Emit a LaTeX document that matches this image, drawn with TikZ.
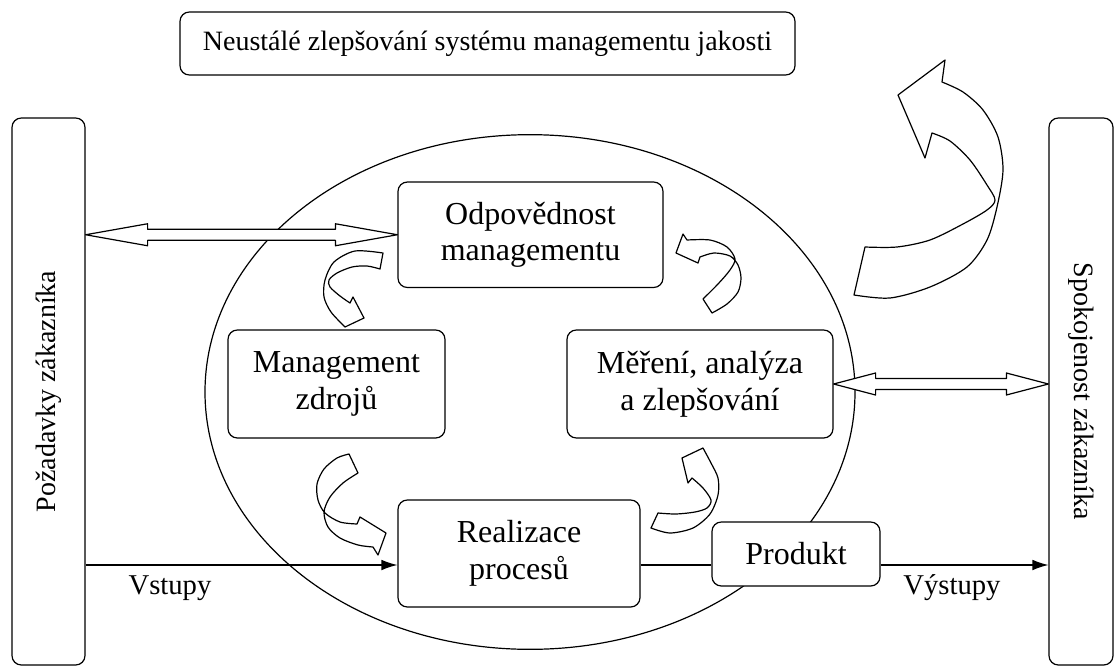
\documentclass[tikz,border=0pt]{standalone}
\usepackage{fontspec}
\setmainfont{Liberation Serif}
\usetikzlibrary{calc,arrows.meta}
\newcommand\blockdbl[3]{%
  \path (#1) coordinate (dA) (#2) coordinate (dB);
  \draw[fill=white] (dA) -- ++(#3,-11) -- ++(0,5.5) -- ($(dB)+(-#3,-5.5)$) -- ++(0,-5.5) -- (dB)
    -- ++(-#3,11) -- ++(0,-5.5) -- ($(dA)+(#3,5.5)$) -- ++(0,5.5) -- cycle;}
\begin{document}
\begin{tikzpicture}[x=0.75pt,y=-0.75pt,line width=0.9pt,line join=round,
  box/.style={draw,rounded corners=7pt,fill=white,align=center,inner sep=0pt,
    font=\fontsize{24}{27.5}\selectfont},
  plainbox/.style={draw,rounded corners=7pt,fill=white,align=center,inner sep=0pt,
    font=\fontsize{21}{24.4}\selectfont},
  lbl/.style={font=\fontsize{21.5}{24.4}\selectfont,inner sep=0pt},
  tipstyle/.style={-{Latex[length=12pt,width=8pt]}}]
\useasboundingbox (0,0) rectangle (1115,668);
% big ellipse
\draw (530,392) ellipse [x radius=243.75pt, y radius=193pt];
% boxes
\node[plainbox,minimum width=461.25pt,minimum height=47.25pt] (top) at (487.5,43.5)
  {Neustálé zlepšování systému managementu jakosti};
\node[plainbox,minimum width=54.75pt,minimum height=410.25pt] (lb) at (48.5,391.5)
  {\rotatebox{90}{Požadavky zákazníka}};
\node[plainbox,minimum width=48pt,minimum height=410.25pt] (rb) at (1081,391.5)
  {\rotatebox{-90}{Spokojenost zákazníka}};
\node[box,minimum width=198.75pt,minimum height=79.1pt] (odp) at (530.5,234.75)
  {Odpovědnost\\managementu};
\node[box,minimum width=162.75pt,minimum height=81pt] (zdr) at (336.5,384)
  {Management\\zdrojů};
\node[box,minimum width=199.5pt,minimum height=81pt] (mer) at (700,384)
  {Měření, analýza\\a zlepšování};
\node[box,minimum width=181.5pt,minimum height=80.25pt] (real) at (519,553.5)
  {Realizace\\procesů};
\node[box,minimum width=126pt,minimum height=48pt] (prod) at (796,554)
  {Produkt};
% double block arrows
\blockdbl{lb.east |- odp.west}{odp.west}{62}
\blockdbl{mer.east}{rb.west |- mer.east}{42}
% main flow
\draw[tipstyle] (lb.east |- 0,565) -- (real.west |- 0,565);
\draw (real.east |- 0,565) -- (prod.west |- 0,565);
\draw[tipstyle] (prod.east |- 0,565) -- (rb.west |- 0,565);
\node[lbl] (vst) at (170,588) {Vstupy};
\node[lbl] (vys) at (952,588) {Výstupy};
% curved arrows
\draw (383,253) -- plot[smooth] coordinates {(383,253) (355,251) (334,262) (325,280) (324,297) (331,312) (345,327)}
  -- (364,318) -- (353,297) -- (350,303)
  -- plot[smooth] coordinates {(350,303) (340,296) (330,287) (329,280) (337,273) (352,267) (367,266) (380,269)} -- cycle;
\draw (703,299) -- plot[smooth] coordinates {(703,299) (718,284) (730,270) (735,259) (727,247) (710,240) (687,240)}
  -- (683,234) -- (676,253) -- (698,263) -- (700,257)
  -- plot[smooth] coordinates {(700,257) (714,253) (730,256) (738,265) (741,278) (738,292) (727,304) (712,313)} -- cycle;
\draw (349,454) -- plot[smooth] coordinates {(349,454) (337,458) (324,469) (317,484) (318,500) (325,513) (340,522) (357,524)}
  -- (360,517) -- (386,533) -- (378,555) -- (373,547)
  -- plot[smooth] coordinates {(373,547) (358,545) (340,538) (328,527) (324,512) (330,497) (343,483) (358,473)} -- cycle;
\draw (651,528) -- plot[smooth] coordinates {(651,528) (670,533) (693,528) (710,514) (718,495) (718,478) (711,463) (703,448)}
  -- (682,458) -- (688,483) -- (692,478)
  -- plot[smooth] coordinates {(692,478) (703,488) (711,500) (707,508) (695,512) (676,514) (658,513)} -- cycle;
\draw (865,247) -- plot[smooth] coordinates {(865,247) (897,247) (930,240) (963,224) (987,210) (995,200) (987,185) (970,160) (950,141) (932,133)}
  -- (925,158) -- (898,95) -- (945,60) -- (942,82)
  -- plot[smooth] coordinates {(942,82) (963,92) (983,110) (998,137) (1003,170) (997,207) (987,240) (967,267) (930,287) (890,298) (854,295)} -- cycle;
\end{tikzpicture}
\end{document}
